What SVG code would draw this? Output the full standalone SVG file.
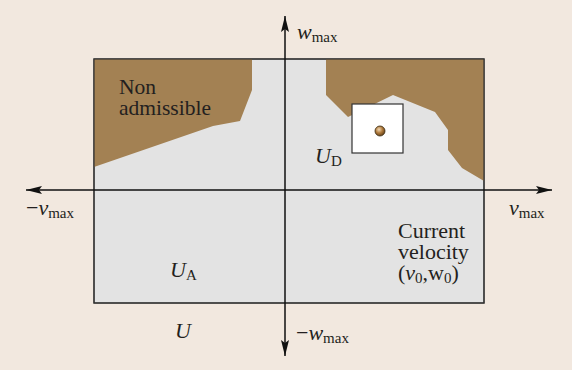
<svg xmlns="http://www.w3.org/2000/svg" width="572" height="370" viewBox="0 0 572 370">
<defs>
<style>
.t{font-family:"Liberation Serif","Times New Roman",serif;fill:#231f20;font-size:21.5px}
.m{font-size:22px}
.c{font-size:22px}
.i{font-style:italic}
.s{font-size:15px}
.ax{stroke:#111;stroke-width:1.5;fill:none}
</style>
<radialGradient id="ball" cx="0.4" cy="0.35" r="0.7">
<stop offset="0" stop-color="#f0d9b5"/>
<stop offset="0.5" stop-color="#b07a3c"/>
<stop offset="1" stop-color="#5a3a14"/>
</radialGradient>
<marker id="ah" viewBox="0 0 16 8" refX="16" refY="4" markerWidth="16" markerHeight="8" markerUnits="userSpaceOnUse" orient="auto">
<path d="M0,0 L16,4 L0,8 L3,4 Z" fill="#111"/>
</marker>
</defs>
<rect x="0" y="0" width="572" height="370" fill="#f2e8df"/>
<g id="region-U">
<rect x="94" y="59" width="390" height="244" fill="#e3e3e3" stroke="#333" stroke-width="1.2"/>
</g>
<g id="non-admissible-left">
<polygon points="94,59 252,59 252,90 240,121 213,126 94,167" fill="#a38153"/>
</g>
<g id="non-admissible-right">
<polygon points="326,59 484,59 484,181 462,168 448,150 448,130 435,112 393,95 348,117 326,95" fill="#a38153"/>
</g>
<g id="current-velocity-window">
<rect x="352" y="104" width="51" height="49" fill="#fff" stroke="#333" stroke-width="1.2"/>
<circle cx="380" cy="131" r="5" fill="url(#ball)" stroke="#3a2a10" stroke-width="0.8"/>
</g>
<g id="border-redraw">
<rect x="94" y="59" width="390" height="244" fill="none" stroke="#333" stroke-width="1.2"/>
</g>
<g id="connectors">
<line class="ax" x1="285" y1="190" x2="552" y2="190" marker-end="url(#ah)"/>
<line class="ax" x1="285" y1="190" x2="26" y2="190" marker-end="url(#ah)"/>
<line class="ax" x1="285" y1="190" x2="285" y2="16" marker-end="url(#ah)"/>
<line class="ax" x1="285" y1="190" x2="285" y2="356" marker-end="url(#ah)"/>
</g>
<g id="labels">
<text class="t" x="119" y="94">Non</text>
<text class="t" x="119" y="115">admissible</text>
<text class="t c" x="398" y="238">Current</text>
<text class="t c" x="398" y="259">velocity</text>
<text class="t c" x="398" y="280">(<tspan class="i">v</tspan><tspan class="s" dy="3">0</tspan><tspan dy="-3">,w</tspan><tspan class="s" dy="3">0</tspan><tspan dy="-3">)</tspan></text>
<text class="t m" x="297" y="39"><tspan class="i">w</tspan><tspan class="s" dy="3">max</tspan></text>
<text class="t m" x="26" y="215">−<tspan class="i">v</tspan><tspan class="s" dy="3">max</tspan></text>
<text class="t m" x="509" y="215"><tspan class="i">v</tspan><tspan class="s" dy="3">max</tspan></text>
<text class="t m" x="296" y="340">−<tspan class="i">w</tspan><tspan class="s" dy="3">max</tspan></text>
<text class="t m" x="315" y="163"><tspan class="i">U</tspan><tspan class="s" dy="3">D</tspan></text>
<text class="t m" x="170" y="277"><tspan class="i">U</tspan><tspan class="s" dy="3">A</tspan></text>
<text class="t m i" x="175" y="338">U</text>
</g>
</svg>
